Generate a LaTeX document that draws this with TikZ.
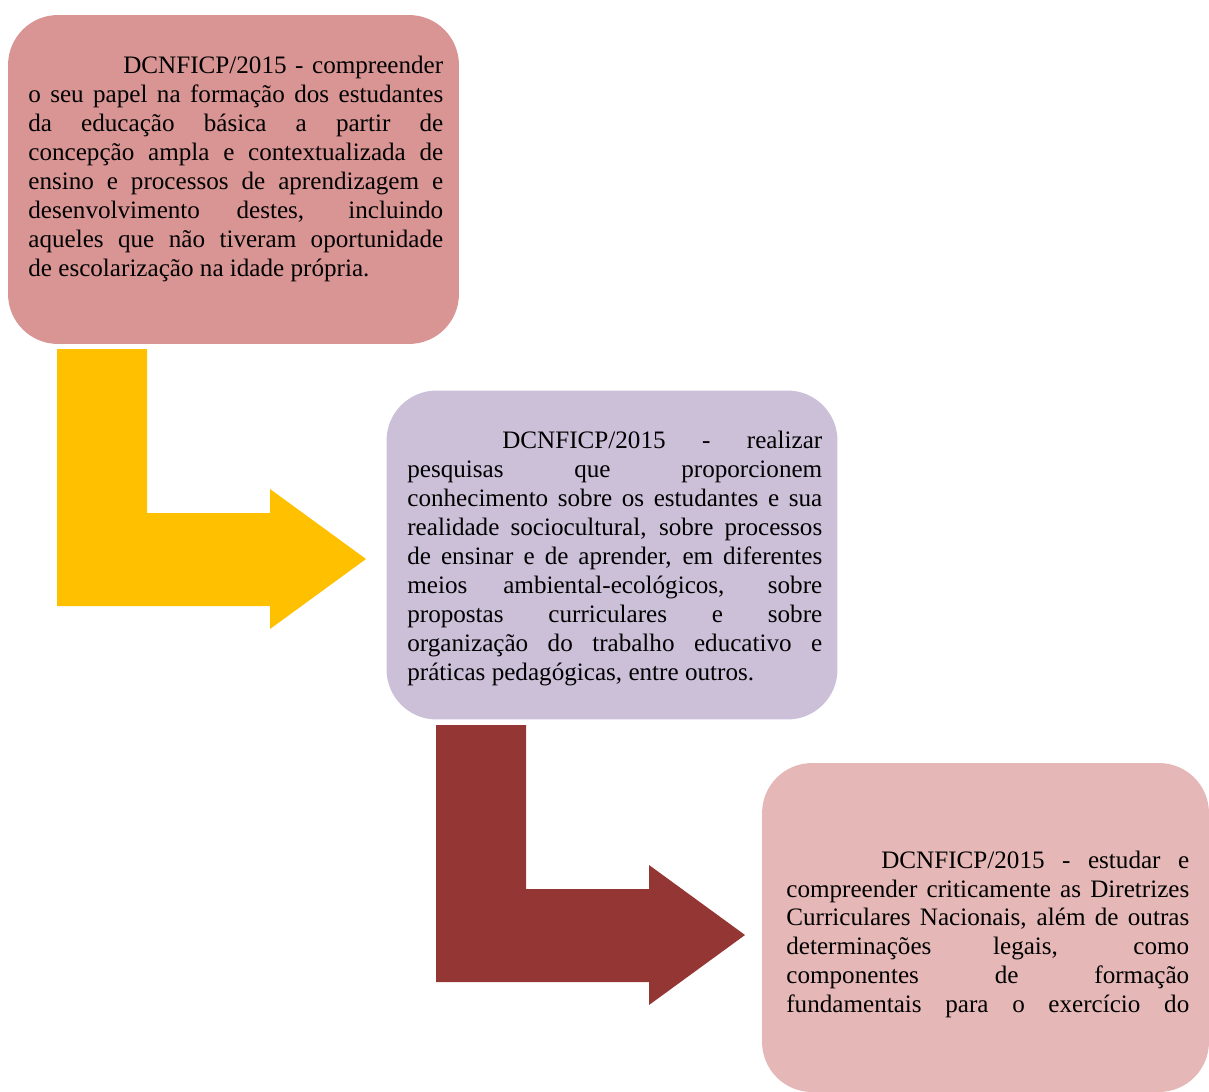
\documentclass[tikz,border=0pt]{standalone}
\usepackage{fontspec}
\setmainfont{Liberation Serif}
\usetikzlibrary{positioning}
\definecolor{roseCard}{HTML}{D99594}
\definecolor{lilacCard}{HTML}{CCC0D9}
\definecolor{pinkCard}{HTML}{E5B8B7}
\definecolor{goldArrow}{HTML}{FFC000}
\definecolor{wineArrow}{HTML}{943634}
\tikzstyle{card} = [rectangle, rounded corners=1cm, minimum width=9.02cm, minimum height=6.58cm, inner sep=0pt]
\tikzstyle{cardText} = [inner sep=0pt, anchor=base west, text width=8.3cm, align=justify, font=\fontsize{14.3}{16.5}\selectfont]

\begin{document}
\begin{tikzpicture}[x=0.02cm, y=-0.02cm]

	\clip (0,0) rectangle (1209,1091);

	\node (compreenderBox) [card, fill=roseCard] at (233.5,179.5) {};
	\node (pesquisarBox) [card, fill=lilacCard] at (612,555) {};
	\node (estudarBox) [card, fill=pinkCard, minimum width=8.94cm] at (985.5,927.5) {};

	\node (compreenderText) [cardText] at (28,74) {\hyphenpenalty=10000
		\hspace*{1.9cm}DCNFICP/2015 - compreender\linebreak
		o seu papel na formação dos estudantes\linebreak
		da educação básica a partir de\linebreak
		concepção ampla e contextualizada de\linebreak
		ensino e processos de aprendizagem e\linebreak
		desenvolvimento destes, incluindo\linebreak
		aqueles que não tiveram oportunidade\linebreak
		de escolarização na idade própria.};

	\node (pesquisarText) [cardText] at (407,448.5) {\hyphenpenalty=10000 \exhyphenpenalty=10000
		\hspace*{1.9cm}DCNFICP/2015 - realizar\linebreak
		pesquisas que proporcionem\linebreak
		conhecimento sobre os estudantes e sua\linebreak
		realidade sociocultural, sobre processos\linebreak
		de ensinar e de aprender, em diferentes\linebreak
		meios ambiental-ecológicos, sobre\linebreak
		propostas curriculares e sobre\linebreak
		organização do trabalho educativo e\linebreak
		práticas pedagógicas, entre outros.};

	\node (estudarText) [cardText, text width=8.06cm] at (786,868) {\hyphenpenalty=10000 \parfillskip=0pt
		\hspace*{1.9cm}DCNFICP/2015 - estudar e\linebreak
		compreender criticamente as Diretrizes\linebreak
		Curriculares Nacionais, além de outras\linebreak
		determinações legais, como\linebreak
		componentes de formação\linebreak
		fundamentais para o exercício do\par};

	% bent arrows between the cards
	\fill [goldArrow] (57,349) -- ++(90,0) -- ++(0,164) -- ++(123,0) -- ++(0,-24) -- ++(96,70) -- ++(-96,70) -- ++(0,-23) -- ++(-213,0) -- cycle;
	\fill [wineArrow] (436,725) -- ++(90,0) -- ++(0,164) -- ++(123,0) -- ++(0,-24) -- ++(96,70) -- ++(-96,70) -- ++(0,-23) -- ++(-213,0) -- cycle;

\end{tikzpicture}
\end{document}
